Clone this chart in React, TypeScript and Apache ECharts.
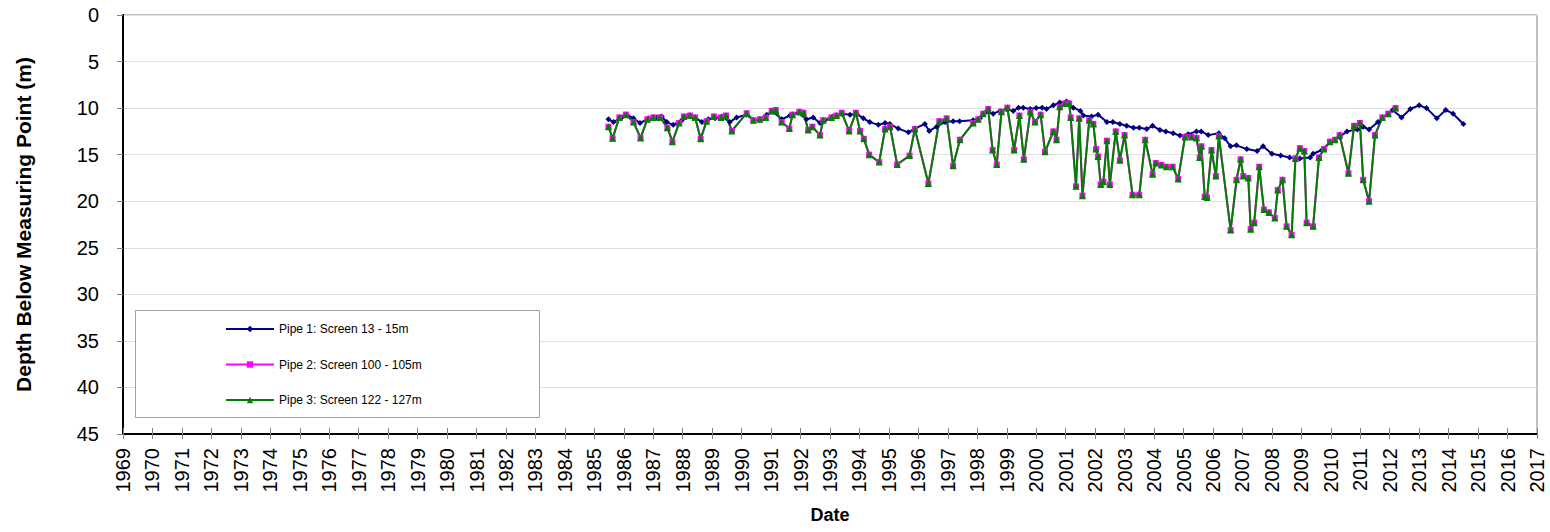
import React, { useEffect, useRef } from "react";
import * as echarts from "echarts";

const yearTicksMin = 1969;
const yearTicksMax = 2017;
const depthMin = 0;
const depthMax = 45;

const seriesNames = [
  "Pipe 1: Screen 13 - 15m",
  "Pipe 2: Screen 100 - 105m",
  "Pipe 3: Screen 122 - 127m",
];

const pipe1Dates = [
  1985.48, 1985.65, 1985.93, 1986.1, 1986.33, 1986.55, 1986.84, 1987.12, 1987.29, 1987.46,
  1987.68, 1987.97, 1988.19, 1988.42, 1988.65, 1988.87, 1989.1, 1989.33, 1989.6, 1989.83,
  1990.17, 1990.4, 1990.62, 1990.85, 1991.07, 1991.36, 1991.64, 1991.92, 1992.2, 1992.43,
  1992.66, 1992.83, 1993.1, 1993.4, 1993.68, 1993.9, 1994.13, 1994.35, 1994.64, 1994.87,
  1995.03, 1995.32, 1995.66, 1995.88, 1996.22, 1996.37, 1996.62, 1996.9, 1997.18, 1997.4,
  1997.86, 1998.09, 1998.3, 1998.54, 1998.77, 1998.99, 1999.22, 1999.4, 1999.56, 1999.8,
  2000.0, 2000.2, 2000.35, 2000.58, 2000.8, 2001.03, 2001.26, 2001.5, 2001.6, 2001.88,
  2002.1, 2002.4, 2002.6, 2002.84, 2003.07, 2003.3, 2003.5, 2003.75, 2003.95, 2004.2,
  2004.4, 2004.65, 2004.88, 2005.16, 2005.44, 2005.6, 2005.84, 2006.2, 2006.4, 2006.6,
  2006.8, 2007.15, 2007.5, 2007.7, 2008.0, 2008.3, 2008.6, 2008.95, 2009.3, 2009.4,
  2009.7, 2010.0, 2010.3, 2010.55, 2010.9, 2011.1, 2011.3, 2011.6, 2012.1, 2012.4,
  2012.7, 2013.0, 2013.25, 2013.6, 2013.9, 2014.15, 2014.5,
];
const pipe1Depths = [
  11.2, 11.5, 11.0, 10.7, 11.1, 11.6, 11.1, 11.0, 10.9, 11.5,
  11.8, 11.3, 10.8, 11.0, 11.5, 11.2, 11.1, 10.9, 11.5, 11.0,
  10.7, 11.3, 11.2, 10.7, 10.4, 11.2, 10.8, 10.5, 11.2, 11.0,
  11.6, 11.3, 10.9, 10.6, 10.7, 10.6, 11.1, 11.5, 11.8, 11.6,
  11.7, 12.2, 12.6, 12.2, 11.7, 12.45, 12.0, 11.5, 11.4, 11.4,
  11.3, 11.1, 10.4, 10.6, 10.3, 10.1, 10.3, 9.95, 9.95, 10.1,
  10.0, 9.95, 10.1, 9.7, 9.4, 9.3, 9.95, 10.3, 10.8, 10.9,
  10.7, 11.5, 11.5, 11.7, 11.9, 12.1, 12.1, 12.25, 11.9, 12.35,
  12.5, 12.7, 12.95, 12.8, 12.5, 12.5, 12.9, 12.7, 13.25, 14.1,
  14.0, 14.4, 14.6, 14.1, 14.9, 15.1, 15.3, 15.4, 15.3, 14.9,
  14.5, 13.6, 13.1, 12.5, 12.3, 12.0, 12.3, 11.5, 10.2, 11.0,
  10.1, 9.7, 10.0, 11.1, 10.2, 10.6, 11.7,
];

const pipe2Dates = [
  1985.48, 1985.62, 1985.85, 1986.07, 1986.33, 1986.57, 1986.8, 1987.0, 1987.23, 1987.48,
  1987.65, 1987.88, 1988.04, 1988.25, 1988.42, 1988.61, 1988.81, 1989.06, 1989.3, 1989.47,
  1989.67, 1990.17, 1990.4, 1990.62, 1990.82, 1991.02, 1991.16, 1991.36, 1991.62, 1991.73,
  1991.96, 1992.1, 1992.26, 1992.4, 1992.66, 1992.77, 1993.05, 1993.22, 1993.4, 1993.65,
  1993.88, 1994.02, 1994.15, 1994.33, 1994.67, 1994.87, 1995.04, 1995.28, 1995.7, 1995.88,
  1996.34, 1996.71, 1996.96, 1997.18, 1997.41, 1997.86, 1998.03, 1998.2, 1998.37, 1998.52,
  1998.66, 1998.82, 1999.02, 1999.25, 1999.43, 1999.58, 1999.8, 1999.96, 2000.15, 2000.3,
  2000.58, 2000.69, 2000.8, 2000.97, 2001.12, 2001.17, 2001.35, 2001.46, 2001.57, 2001.8,
  2001.94, 2002.03, 2002.1, 2002.19, 2002.28, 2002.4, 2002.5, 2002.7, 2002.84, 2003.0,
  2003.27, 2003.5, 2003.7, 2003.95, 2004.06, 2004.25, 2004.42, 2004.63, 2004.82, 2005.05,
  2005.27, 2005.44, 2005.55, 2005.61, 2005.72, 2005.8, 2005.95, 2006.1, 2006.2, 2006.6,
  2006.8, 2006.94, 2007.03, 2007.2, 2007.28, 2007.4, 2007.57, 2007.73, 2007.9, 2008.1,
  2008.2, 2008.36, 2008.5, 2008.67, 2008.8, 2008.95, 2009.1, 2009.18, 2009.4, 2009.6,
  2009.77, 2009.97, 2010.14, 2010.3, 2010.6, 2010.79, 2010.99, 2011.1, 2011.3, 2011.5,
  2011.75, 2011.95, 2012.2,
];
const pipe2Depths = [
  12.0, 13.25, 11.0, 10.7, 11.5, 13.2, 11.2, 11.0, 11.0, 12.1,
  13.6, 11.6, 10.9, 10.8, 11.0, 13.3, 11.4, 10.9, 11.0, 10.8,
  12.45, 10.55, 11.3, 11.2, 11.0, 10.3, 10.2, 11.5, 12.2, 10.7,
  10.4, 10.5, 12.35, 12.0, 12.9, 11.3, 11.0, 10.8, 10.5, 12.45,
  10.5, 12.45, 13.3, 15.0, 15.8, 12.25, 12.0, 16.05, 15.1, 12.25,
  18.1, 11.4, 11.1, 16.2, 13.4, 11.6, 11.2, 10.6, 10.1, 14.5,
  16.05, 10.4, 9.95, 14.5, 10.8, 15.5, 10.4, 11.5, 10.7, 14.7,
  12.5, 13.4, 9.85, 9.5, 9.5, 11.0, 18.4, 11.1, 19.4, 11.3,
  11.7, 14.4, 15.2, 18.2, 17.9, 13.5, 18.2, 12.5, 15.6, 12.9,
  19.3, 19.3, 13.4, 17.1, 15.9, 16.1, 16.3, 16.3, 17.6, 13.1,
  13.1, 13.2, 15.3, 14.1, 19.5, 19.6, 14.5, 17.3, 13.0, 23.1,
  17.7, 15.5, 17.3, 17.5, 23.0, 22.3, 16.3, 20.9, 21.2, 21.8,
  18.8, 17.7, 22.7, 23.6, 15.4, 14.3, 14.6, 22.3, 22.7, 15.3,
  14.4, 13.6, 13.4, 12.9, 17.0, 11.9, 11.6, 17.7, 20.0, 12.9,
  11.0, 10.6, 10.0,
];

const pipe3Dates = [
  1985.48, 1985.62, 1985.85, 1986.07, 1986.33, 1986.57, 1986.8, 1987.0, 1987.23, 1987.48,
  1987.65, 1987.88, 1988.04, 1988.25, 1988.42, 1988.61, 1988.81, 1989.06, 1989.3, 1989.47,
  1989.67, 1990.17, 1990.4, 1990.62, 1990.82, 1991.02, 1991.16, 1991.36, 1991.62, 1991.73,
  1991.96, 1992.1, 1992.26, 1992.4, 1992.66, 1992.77, 1993.05, 1993.22, 1993.4, 1993.65,
  1993.88, 1994.02, 1994.15, 1994.33, 1994.67, 1994.87, 1995.04, 1995.28, 1995.7, 1995.88,
  1996.34, 1996.71, 1996.96, 1997.18, 1997.41, 1997.86, 1998.03, 1998.2, 1998.37, 1998.52,
  1998.66, 1998.82, 1999.02, 1999.25, 1999.43, 1999.58, 1999.8, 1999.96, 2000.15, 2000.3,
  2000.58, 2000.69, 2000.8, 2000.97, 2001.12, 2001.17, 2001.35, 2001.46, 2001.57, 2001.8,
  2001.94, 2002.03, 2002.1, 2002.19, 2002.28, 2002.4, 2002.5, 2002.7, 2002.84, 2003.0,
  2003.27, 2003.5, 2003.7, 2003.95, 2004.06, 2004.25, 2004.42, 2004.63, 2004.82, 2005.05,
  2005.27, 2005.44, 2005.55, 2005.61, 2005.72, 2005.8, 2005.95, 2006.1, 2006.2, 2006.6,
  2006.8, 2006.94, 2007.03, 2007.2, 2007.28, 2007.4, 2007.57, 2007.73, 2007.9, 2008.1,
  2008.2, 2008.36, 2008.5, 2008.67, 2008.8, 2008.95, 2009.1, 2009.18, 2009.4, 2009.6,
  2009.77, 2009.97, 2010.14, 2010.3, 2010.6, 2010.79, 2010.99, 2011.1, 2011.3, 2011.5,
  2011.75, 2011.95, 2012.2,
];
const pipe3Depths = [
  12.0, 13.25, 11.0, 10.7, 11.5, 13.2, 11.2, 11.0, 11.0, 12.1,
  13.6, 11.6, 10.9, 10.8, 11.0, 13.3, 11.4, 10.9, 11.0, 10.8,
  12.45, 10.55, 11.3, 11.2, 11.0, 10.3, 10.2, 11.5, 12.2, 10.7,
  10.4, 10.5, 12.35, 12.0, 12.9, 11.3, 11.0, 10.8, 10.5, 12.45,
  10.5, 12.45, 13.3, 15.0, 15.8, 12.25, 12.0, 16.05, 15.1, 12.25,
  18.1, 11.4, 11.1, 16.2, 13.4, 11.6, 11.2, 10.6, 10.1, 14.5,
  16.05, 10.4, 9.95, 14.5, 10.8, 15.5, 10.4, 11.5, 10.7, 14.7,
  12.5, 13.4, 9.85, 9.5, 9.5, 11.0, 18.4, 11.1, 19.4, 11.3,
  11.7, 14.4, 15.2, 18.2, 17.9, 13.5, 18.2, 12.5, 15.6, 12.9,
  19.3, 19.3, 13.4, 17.1, 15.9, 16.1, 16.3, 16.3, 17.6, 13.1,
  13.1, 13.2, 15.3, 14.1, 19.5, 19.6, 14.5, 17.3, 13.0, 23.1,
  17.7, 15.5, 17.3, 17.5, 23.0, 22.3, 16.3, 20.9, 21.2, 21.8,
  18.8, 17.7, 22.7, 23.6, 15.4, 14.3, 14.6, 22.3, 22.7, 15.3,
  14.4, 13.6, 13.4, 12.9, 17.0, 11.9, 11.6, 17.7, 20.0, 12.9,
  11.0, 10.6, 10.0,
];

const zip = (xs: number[], ys: number[]) => xs.map((x, i) => [x, ys[i]]);

const FONT = "Arial, 'Liberation Sans', sans-serif";

export default function App() {
  const ref = useRef<HTMLDivElement>(null);

  useEffect(() => {
    document.body.style.margin = "0";
    if (!ref.current) return;
    const chart = echarts.init(ref.current, undefined, { renderer: "svg" });
    const option: any = {
      animation: false,
      backgroundColor: "#ffffff",
      textStyle: { fontFamily: FONT },
      grid: {
        left: 123,
        top: 15,
        right: 13,
        bottom: 98,
        show: true,
        borderColor: "#808080",
        borderWidth: 1,
        backgroundColor: "#ffffff",
      },
      legend: {
        orient: "vertical",
        left: 220,
        top: 318,
        itemWidth: 48,
        itemHeight: 8,
        itemGap: 23.5,
        data: seriesNames,
        textStyle: { fontFamily: FONT, fontSize: 12, color: "#000" },
        z: 10,
      },
      graphic: [
        {
          type: "rect",
          left: 135,
          top: 310,
          shape: { x: 0, y: 0, width: 404, height: 107 },
          style: { fill: "#ffffff", stroke: "#a0a0a0", lineWidth: 1 },
          z: 3,
        },
      ],
      xAxis: [
        {
          type: "value",
          min: yearTicksMin,
          max: yearTicksMax,
          interval: 1,
          position: "bottom",
          name: "Date",
          nameLocation: "middle",
          nameGap: 72,
          nameTextStyle: { fontFamily: FONT, fontSize: 18, fontWeight: "bold", color: "#000" },
          axisLine: { show: true, onZero: false, lineStyle: { color: "#000", width: 2 } },
          axisTick: { show: true, length: 5, lineStyle: { color: "#808080", width: 1 } },
          axisLabel: {
            rotate: 90,
            margin: 14,
            fontSize: 20,
            color: "#000",
            fontFamily: FONT,
            formatter: (v: number) => String(v),
          },
          splitLine: { show: false },
        },
        {
          type: "value",
          min: yearTicksMin,
          max: yearTicksMax,
          interval: 1,
          position: "top",
          offset: -419,
          axisLine: { show: false },
          axisTick: { show: true, inside: false, length: 6, lineStyle: { color: "#808080", width: 1 } },
          axisLabel: { show: false },
          splitLine: { show: false },
        },
      ],
      yAxis: {
        type: "value",
        inverse: true,
        min: depthMin,
        max: depthMax,
        interval: 5,
        name: "Depth Below Measuring Point (m)",
        nameLocation: "middle",
        nameGap: 89,
        nameTextStyle: { fontFamily: FONT, fontSize: 21, fontWeight: "bold", color: "#000" },
        axisLine: { show: true, onZero: false, lineStyle: { color: "#000", width: 2 } },
        axisTick: { show: true, length: 6, lineStyle: { color: "#808080", width: 1 } },
        axisLabel: { margin: 24, fontSize: 20, color: "#000", fontFamily: FONT },
        splitLine: { show: true, lineStyle: { color: "#e0e0e0", width: 1 } },
      },
      series: [
        {
          name: seriesNames[0],
          type: "line",
          data: zip(pipe1Dates, pipe1Depths),
          symbol: "diamond",
          symbolSize: 6,
          itemStyle: { color: "#000080" },
          lineStyle: { color: "#000080", width: 2 },
        },
        {
          name: seriesNames[1],
          type: "line",
          data: zip(pipe2Dates, pipe2Depths),
          symbol: "rect",
          symbolSize: 6,
          itemStyle: { color: "#FF00FF" },
          lineStyle: { color: "#FF00FF", width: 2 },
        },
        {
          name: seriesNames[2],
          type: "line",
          data: zip(pipe3Dates, pipe3Depths),
          symbol: "triangle",
          symbolSize: 7,
          itemStyle: { color: "#008000" },
          lineStyle: { color: "#008000", width: 2 },
        },
      ],
    };
    chart.setOption(option);
    return () => chart.dispose();
  }, []);

  return (
    <div
      ref={ref}
      style={{ position: "fixed", left: 0, top: 0, width: 1550, height: 532 }}
    />
  );
}
